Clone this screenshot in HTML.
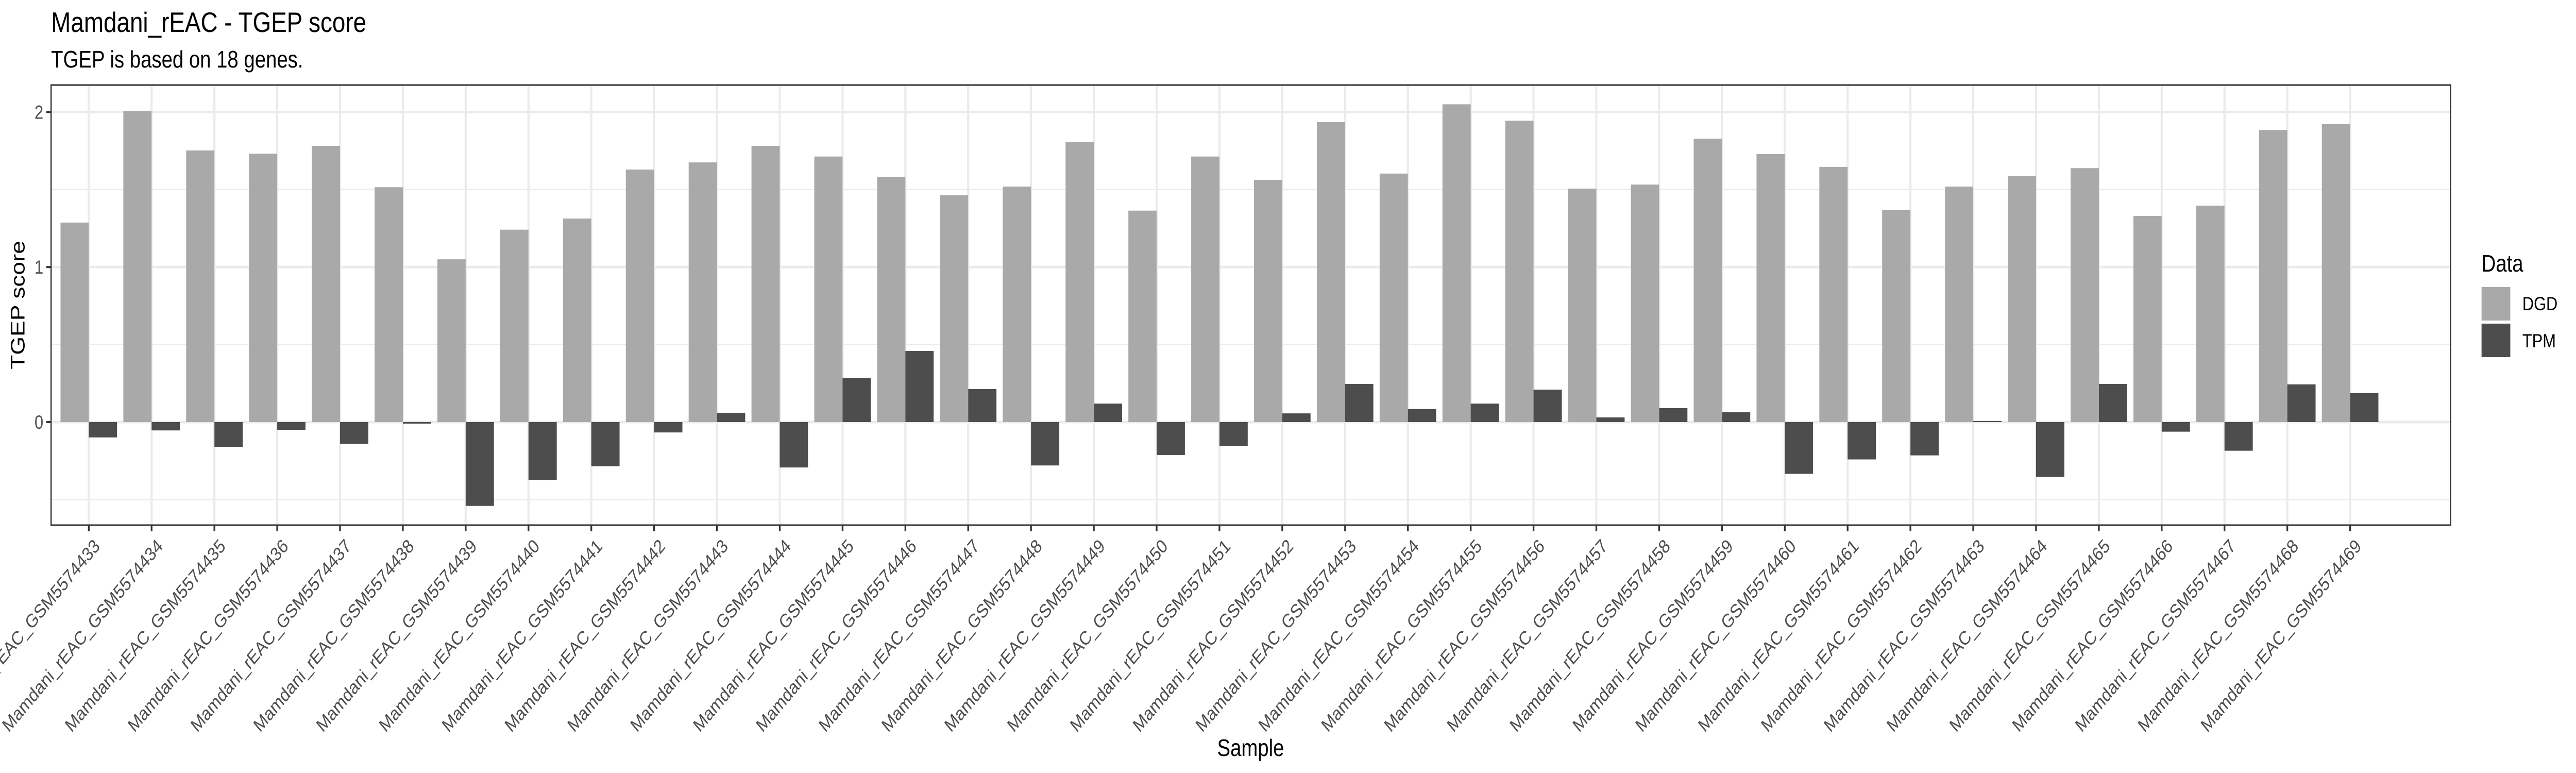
<!DOCTYPE html>
<html><head><meta charset="utf-8"><style>
html,body{margin:0;padding:0;background:#fff;width:100%;height:100%;overflow:hidden;}
svg{display:block;width:100vw;height:100vh;font-family:"Liberation Sans",Arial,sans-serif;}
</style></head><body>
<svg id="chart" viewBox="0 0 6000 1500" preserveAspectRatio="none" xmlns="http://www.w3.org/2000/svg">
<rect width="6000" height="1500" fill="#fff"/>
<text x="119" y="62" font-size="55" fill="#000">Mamdani_rEAC - TGEP score</text>
<text x="119" y="131" font-size="46" fill="#000">TGEP is based on 18 genes.</text>
<g id="grid"></g>
<g id="bars"></g>
<rect x="119" y="165" width="5589" height="854" fill="none" stroke="#333" stroke-width="3"/>
<g id="axes"></g>
<text x="2913" y="1467" font-size="46" text-anchor="middle" fill="#000">Sample</text>
<text transform="translate(57,592) rotate(-90)" font-size="46" text-anchor="middle" fill="#000">TGEP score</text>
<g>
<text x="5780" y="527" font-size="46" fill="#000">Data</text>
<rect x="5780" y="557" width="67" height="65" fill="#A9A9A9"/>
<text x="5875" y="602" font-size="37" fill="#000">DGD</text>
<rect x="5780" y="628" width="67" height="65" fill="#4D4D4D"/>
<text x="5875" y="674" font-size="37" fill="#000">TPM</text>
</g>
</svg>
<script>
const sampleIds = [433,434,435,436,437,438,439,440,441,442,443,444,445,446,447,448,449,450,451,452,453,454,455,456,457,458,459,460,461,462,463,464,465,466,467,468,469];
const dgdValues = [1.287,2.007,1.752,1.731,1.782,1.515,1.050,1.241,1.313,1.629,1.675,1.782,1.713,1.582,1.463,1.519,1.808,1.364,1.713,1.562,1.935,1.603,2.050,1.944,1.506,1.532,1.828,1.729,1.646,1.369,1.519,1.586,1.638,1.330,1.396,1.884,1.922];
const tpmValues = [-0.099,-0.054,-0.160,-0.050,-0.140,-0.010,-0.541,-0.373,-0.285,-0.067,0.060,-0.293,0.285,0.459,0.213,-0.280,0.119,-0.213,-0.153,0.056,0.246,0.084,0.119,0.209,0.030,0.090,0.063,-0.334,-0.241,-0.215,0.007,-0.354,0.246,-0.062,-0.185,0.243,0.187];
const yTicks = [0,1,2];
const yMinor = [-0.5,0.5,1.5];

const NS="http://www.w3.org/2000/svg";
const PL=119, PR=5708, PT=165, PB=1019;
const Y0=819, UNIT=300.8;
const n=sampleIds.length;
const band=(PR-PL)/(n+1.2);
function xc(i){return PL+(0.6+i)*band;}
function ys(v){return Y0-v*UNIT;}
function mk(tag,attrs,parent){const e=document.createElementNS(NS,tag);for(const k in attrs)e.setAttribute(k,attrs[k]);parent.appendChild(e);return e;}
const grid=document.getElementById('grid'), bars=document.getElementById('bars'), axes=document.getElementById('axes');
mk('rect',{x:PL,y:PT,width:PR-PL,height:PB-PT,fill:'#fff'},grid);
yMinor.forEach(v=>{const l=mk('line',{x1:PL,x2:PR,y1:ys(v),y2:ys(v),stroke:'#EBEBEB','stroke-width':2.5},grid);

});
yTicks.forEach(v=>{const l=mk('line',{x1:PL,x2:PR,y1:ys(v),y2:ys(v),stroke:'#EBEBEB','stroke-width':5},grid);

});
sampleIds.forEach((s,i)=>{const l=mk('line',{x1:xc(i),x2:xc(i),y1:PT,y2:PB,stroke:'#EBEBEB','stroke-width':5},grid);

});
const bw=band*0.45;
sampleIds.forEach((s,i)=>{
 const d=dgdValues[i];
 const r1=mk('rect',{x:xc(i)-bw,y:Math.min(ys(d),Y0),width:bw,height:Math.abs(ys(d)-Y0),fill:'#A9A9A9'},bars);
 
 
 const t=tpmValues[i];
 const r2=mk('rect',{x:xc(i),y:Math.min(ys(t),Y0),width:bw,height:Math.abs(ys(t)-Y0),fill:'#4D4D4D'},bars);
 
 
});
yTicks.forEach(v=>{
 const tk=mk('line',{x1:PL-11,x2:PL,y1:ys(v),y2:ys(v),stroke:'#333','stroke-width':4},axes);
 
 
 const tx=mk('text',{x:PL-18,y:ys(v)+13,'font-size':37,'text-anchor':'end',fill:'#4D4D4D'},axes);
 tx.textContent=String(v);
 
 
});
sampleIds.forEach((s,i)=>{
 const x=xc(i);
 const tk=mk('line',{x1:x,x2:x,y1:PB,y2:PB+12,stroke:'#333','stroke-width':4},axes);
 
 
 const tx=mk('text',{transform:`translate(${x+28},${1062}) rotate(-45)`,'font-size':37,'text-anchor':'end',fill:'#4D4D4D'},axes);
 tx.textContent='Mamdani_rEAC_GSM5574'+s;
 
 
});
</script>
</body></html>
